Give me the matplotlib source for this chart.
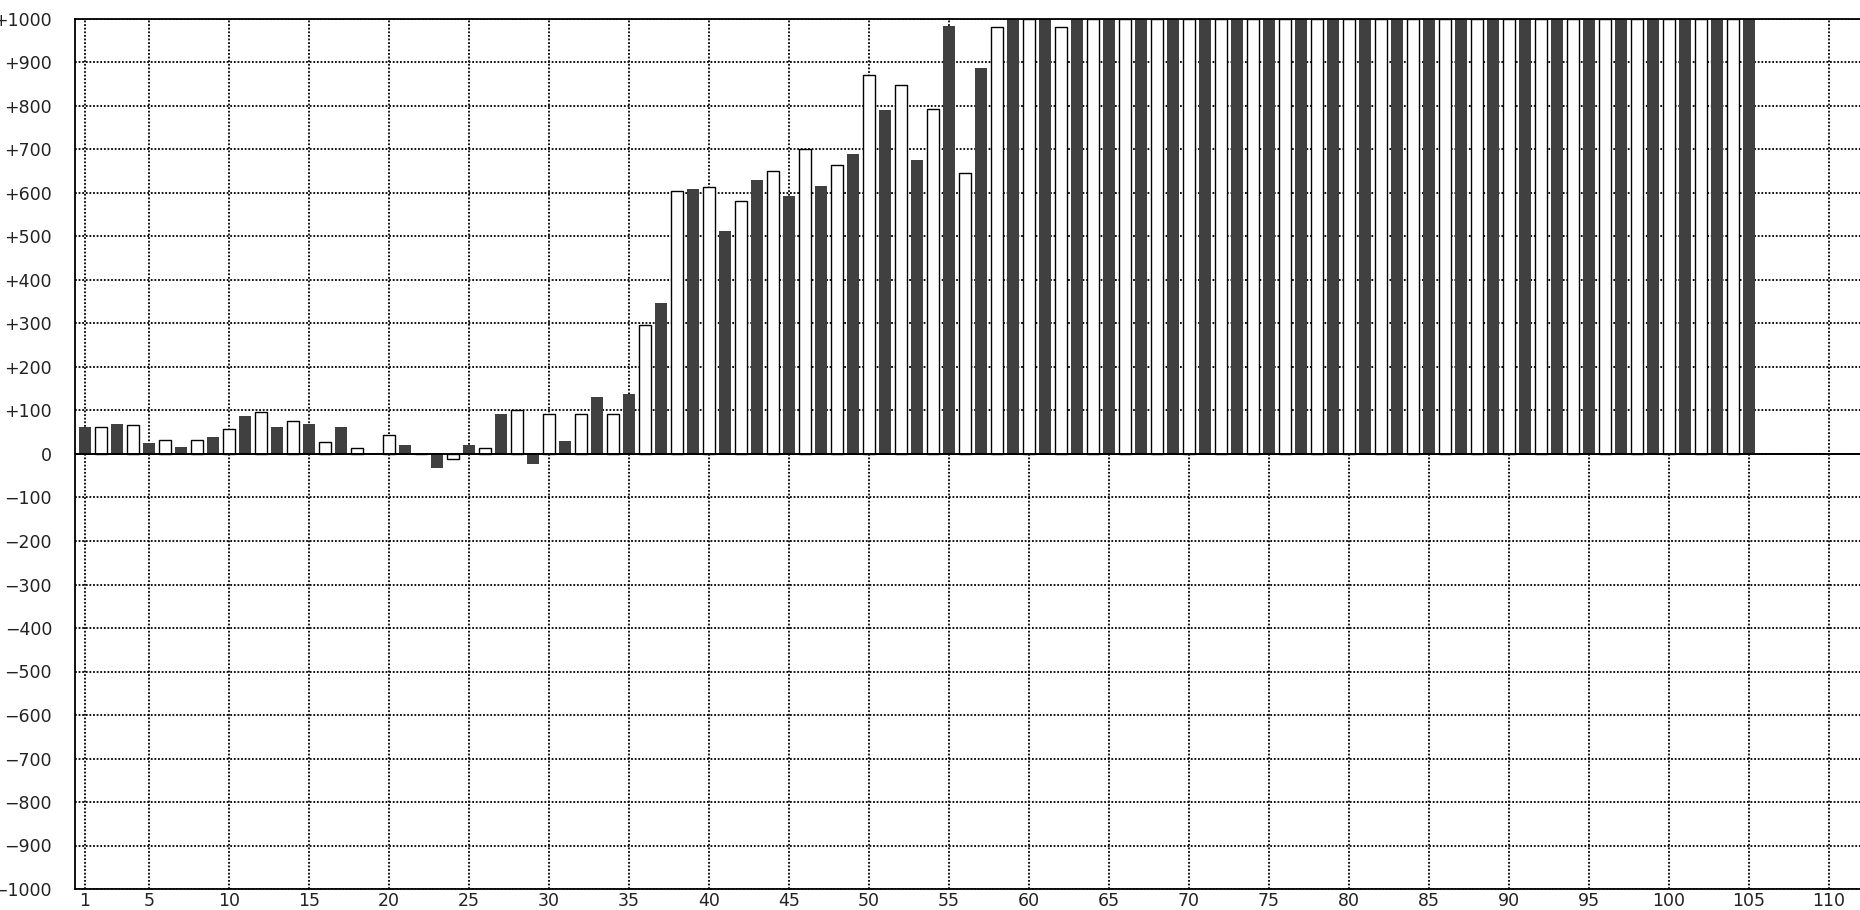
import matplotlib
matplotlib.use("Agg")
import matplotlib.pyplot as plt
from matplotlib.ticker import FuncFormatter

OUT = "out.png"

# odd positions 1, 3, ..., 105 (dark bars)
dark_pos = list(range(1, 106, 2))
dark_vals = [
    63, 69, 25, 15, 39, 88, 63, 69, 63, 2,
    20, -32, 20, 92, -22, 30, 130, 137, 347, 610,
    513, 629, 592, 615, 689, 790, 675, 984, 887,
    1000, 1000, 1000, 1000, 1000, 1000, 1000, 1000, 1000, 1000,
    1000, 1000, 1000, 1000, 1000, 1000, 1000, 1000, 1000, 1000,
    1000, 1000, 1000, 1000,
]
# even positions 2, 4, ..., 104 (white bars)
light_pos = list(range(2, 105, 2))
light_vals = [
    62, 67, 33, 33, 57, 96, 76, 28, 14, 43,
    0, -11, 14, 100, 91, 91, 91, 296, 604, 613,
    581, 650, 701, 665, 872, 849, 794, 646, 982, 1000,
    982,
    1000, 1000, 1000, 1000, 1000, 1000, 1000, 1000, 1000, 1000,
    1000, 1000, 1000, 1000, 1000, 1000, 1000, 1000, 1000, 1000,
    1000,
]
x_ticks = [1, 5, 10, 15, 20, 25, 30, 35, 40, 45, 50, 55,
           60, 65, 70, 75, 80, 85, 90, 95, 100, 105, 110]
y_ticks = list(range(-1000, 1001, 100))


def signed(v, _pos=None):
    v = int(round(v))
    if v > 0:
        return f"+{v}"
    if v < 0:
        return f"\u2212{abs(v)}"
    return "0"


fig = plt.figure(figsize=(18.6, 9.1), dpi=100)
ax = fig.add_axes([75 / 1860, 21 / 910, 1785 / 1860, 870 / 910])

ax.bar(dark_pos, dark_vals, width=0.75, color="#404040", linewidth=0, zorder=2)
ax.bar(light_pos, light_vals, width=0.72, color="white", edgecolor="black",
       linewidth=1.0, zorder=2)
ax.axhline(0, color="black", linewidth=1.4, zorder=3)

ax.set_xlim(0.375, 111.94)
ax.set_ylim(-1000, 1000)
ax.set_xticks(x_ticks)
ax.set_yticks(y_ticks)
ax.yaxis.set_major_formatter(FuncFormatter(signed))

# dotted grid sits under the bars
ax.set_axisbelow(True)
ax.grid(True, color="black", linestyle=(0, (1, 1)), linewidth=1.3)
ax.tick_params(axis="y", length=0, pad=16.5, labelsize=12.5, labelcolor="#222222")
ax.tick_params(axis="x", length=0, pad=2, labelsize=12.5, labelcolor="#222222")

for side in ("left", "top", "bottom"):
    ax.spines[side].set_linewidth(1.3)
    ax.spines[side].set_zorder(4)
ax.spines["right"].set_visible(False)

fig.savefig(OUT, dpi=100)
plt.close(fig)
